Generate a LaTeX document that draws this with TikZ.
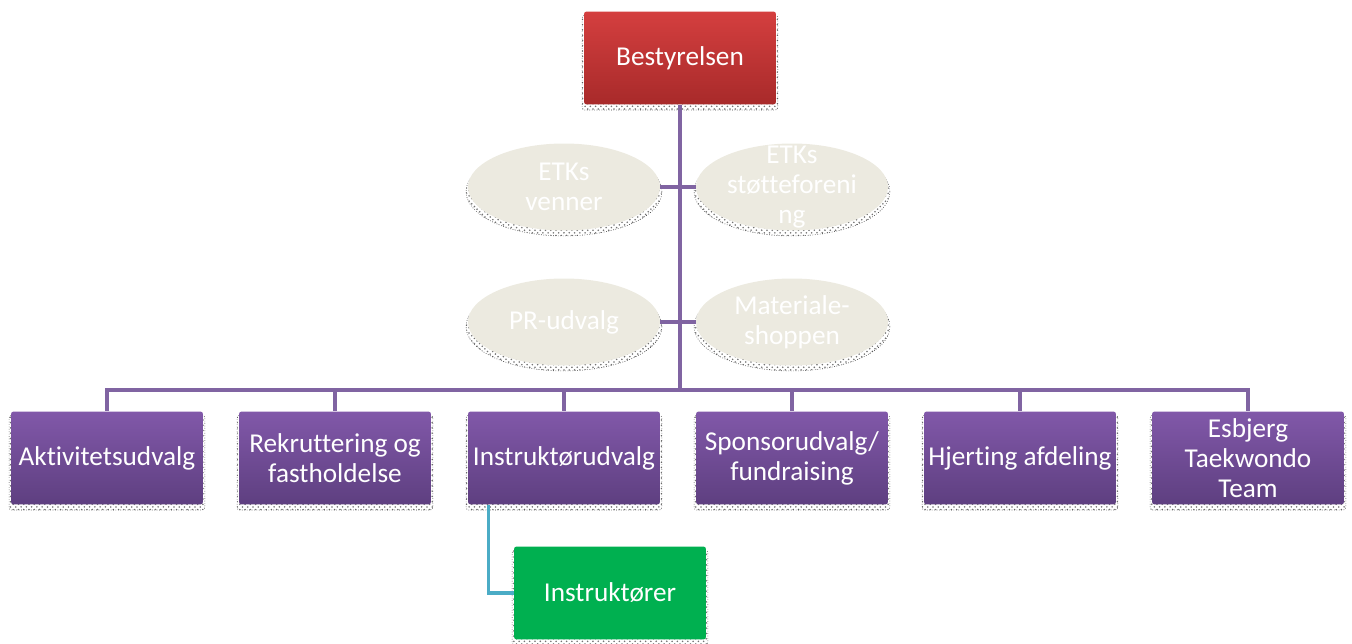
\documentclass[tikz,border=0pt]{standalone}
\usepackage{fontspec}
\setmainfont{Carlito}[Ligatures=NoCommon]
\usetikzlibrary{shapes.geometric,shadows,patterns}

\definecolor{boardtop}{HTML}{D43F3F}
\definecolor{boardbot}{HTML}{A82A2A}
\definecolor{grptop}{HTML}{8158A9}
\definecolor{grpbot}{HTML}{5E3F80}
\definecolor{instrgreen}{HTML}{00B050}
\definecolor{ovalfill}{HTML}{ECEAE0}
\definecolor{linepurple}{HTML}{8064A2}
\definecolor{linecyan}{HTML}{4BACC6}

\tikzset{
  dotshadow/.style={general shadow={shadow scale=1.02,shadow yshift=-0.09cm,
      pattern=crosshatch dots,pattern color=black!55,draw=black!80,densely dotted,line width=0.35pt}},
  unit/.style={rectangle,rounded corners=1.5pt,minimum width=3.84cm,minimum height=1.86cm,
      inner sep=1pt,align=center,text=white,font=\fontsize{15.5}{17}\selectfont,dotshadow},
  board/.style={unit,top color=boardtop,bottom color=boardbot},
  group/.style={unit,top color=grptop,bottom color=grpbot},
  team/.style={unit,fill=instrgreen},
  oval/.style={ellipse,fill=ovalfill,minimum width=3.84cm,minimum height=1.74cm,inner sep=0pt,
      align=center,text=white,font=\fontsize{15.5}{17}\selectfont,dotshadow},
  link/.style={draw=linepurple,line width=2.3pt},
  sublink/.style={draw=linecyan,line width=1.8pt}
}

\begin{document}
\begin{tikzpicture}[x=0.02cm,y=-0.02cm]
  \useasboundingbox (0,0) rectangle (1352,644);

    % board
    \node[board] (best) at (680,58) {Bestyrelsen};

    % staff units beside the trunk
    \node[oval] (venner) at (564,187) {ETKs\\venner};
    \node[oval,inner ysep=-0.45cm] (stotte) at (792,187) {ETKs\\støtteforeni\\ng};
    \node[oval] (pr) at (564,322) {PR-udvalg};
    \node[oval] (shop) at (792,322) {Materiale-\\shoppen};

    % committees
    \node[group] (akt) at (107,458) {Aktivitetsudvalg};
    \node[group] (rekrut) at (335,458) {Rekruttering og\\fastholdelse};
    \node[group] (instrudv) at (564,458) {Instruktørudvalg};
    \node[group] (sponsor) at (792,458) {Sponsorudvalg/\\fundraising};
    \node[group] (hjerting) at (1020,458) {Hjerting afdeling};
    \node[group] (team) at (1248,458) {Esbjerg\\Taekwondo\\Team};

    % instructors
    \node[team] (instr) at (610,593) {Instruktører};

    % trunk and bus
    \coordinate (bus) at (680,390);
    \draw[link] (best.south) -- (bus);
    \draw[link] (venner.east) -- (venner.east -| best);
    \draw[link] (stotte.west) -- (stotte.west -| best);
    \draw[link] (pr.east) -- (pr.east -| best);
    \draw[link] (shop.west) -- (shop.west -| best);
    \foreach \unitname in {akt,rekrut,instrudv,sponsor,hjerting,team}
      \draw[link] (bus) -| (\unitname.north);

    % sub unit
    \draw[sublink] ([xshift=0.42cm]instrudv.south west) |- (instr.west);
\end{tikzpicture}
\end{document}
